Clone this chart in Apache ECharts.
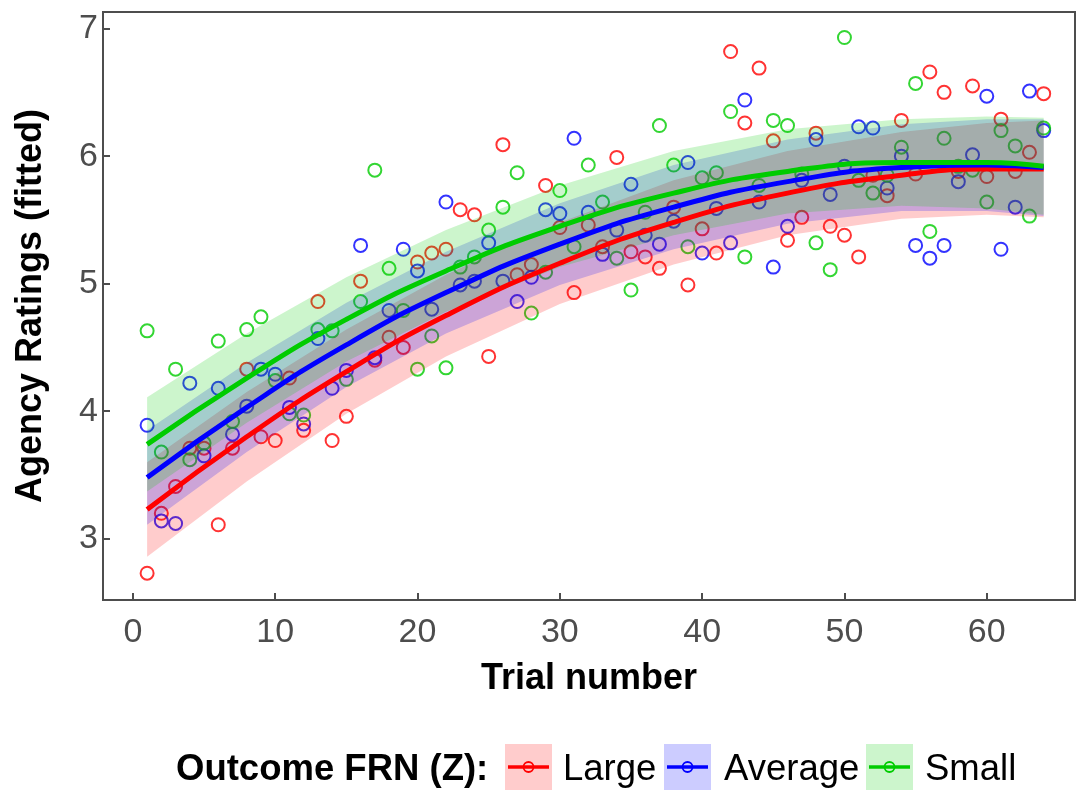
<!DOCTYPE html>
<html>
<head>
<meta charset="utf-8">
<script src="https://cdn.jsdelivr.net/npm/echarts@6/dist/echarts.min.js"></script>
<style>
  html, body { margin: 0; padding: 0; background: #fff; }
  #chart { width: 1077px; height: 790px; }
</style>
</head>
<body>
<div id="chart"></div>
<script>
var trials = [1, 2, 3, 4, 5, 6, 7, 8, 9, 10, 11, 12, 13, 14, 15, 16,
  17, 18, 19, 20, 21, 22, 23, 24, 25, 26, 27, 28, 29, 30, 31, 32,
  33, 34, 35, 36, 37, 38, 39, 40, 41, 42, 43, 44, 45, 46, 47, 48,
  49, 50, 51, 52, 53, 54, 55, 56, 57, 58, 59, 60, 61, 62, 63, 64];

var largeRatings = [2.73, 3.20, 3.41, 3.71, 3.71, 3.11, 3.71, 4.33, 3.80, 3.77, 4.26, 3.85, 4.86, 3.77, 3.96, 5.02,
  4.40, 4.58, 4.50, 5.17, 5.24, 5.27, 5.58, 5.54, 4.43, 6.09, 5.07, 5.15, 5.77, 5.44, 4.93, 5.46,
  5.29, 5.99, 5.25, 5.21, 5.12, 5.60, 4.99, 5.43, 5.24, 6.82, 6.26, 6.69, 6.12, 5.34, 5.52, 6.18,
  5.45, 5.38, 5.21, 5.85, 5.69, 6.28, 5.86, 6.66, 6.50, 5.88, 6.55, 5.84, 6.29, 5.88, 6.03, 6.49];

var averageRatings = [3.89, 3.14, 3.12, 4.22, 3.65, 4.18, 3.82, 4.04, 4.33, 4.29, 4.03, 3.90, 4.57, 4.18, 4.32, 5.30,
  4.42, 4.79, 5.27, 5.10, 4.80, 5.64, 4.99, 5.02, 5.32, 5.02, 4.86, 5.05, 5.58, 5.55, 6.14, 5.56,
  5.23, 5.42, 5.78, 5.38, 5.31, 5.49, 5.95, 5.24, 5.59, 5.32, 6.44, 5.64, 5.13, 5.45, 5.81, 6.13,
  5.70, 5.92, 6.23, 6.22, 5.75, 6.00, 5.30, 5.20, 5.30, 5.80, 6.01, 6.47, 5.27, 5.60, 6.51, 6.20];

var smallRatings = [4.63, 3.68, 4.33, 3.62, 3.75, 4.55, 3.92, 4.64, 4.74, 4.24, 3.98, 3.97, 4.64, 4.63, 4.25, 4.86,
  5.89, 5.12, 4.79, 4.33, 4.59, 4.34, 5.13, 5.21, 5.42, 5.60, 5.87, 4.77, 5.09, 5.73, 5.29, 5.93,
  5.64, 5.20, 4.95, 5.56, 6.24, 5.93, 5.29, 5.83, 5.87, 6.35, 5.21, 5.77, 6.28, 6.24, 5.86, 5.32,
  5.11, 6.93, 5.81, 5.71, 5.85, 6.07, 6.57, 5.41, 6.14, 5.92, 5.89, 5.64, 6.20, 6.08, 5.53, 6.22];

// fitted curves and ribbon half-widths, read at a few trials
var fitTrials = [1, 8, 15, 22, 30, 38, 46, 54, 60, 64];
var largeFit = [3.23, 3.80, 4.31, 4.75, 5.16, 5.48, 5.71, 5.85, 5.90, 5.90];
var averageFit = [3.48, 4.03, 4.52, 4.93, 5.31, 5.60, 5.80, 5.91, 5.93, 5.91];
var smallFit = [3.74, 4.26, 4.72, 5.10, 5.45, 5.71, 5.88, 5.95, 5.95, 5.92];
var bandHalfWidth = [0.37, 0.35, 0.33, 0.32, 0.32, 0.33, 0.33, 0.34, 0.36, 0.38];

var xTicks = [0, 10, 20, 30, 40, 50, 60];
var yTicks = [3, 4, 5, 6, 7];

var groups = ['Large', 'Average', 'Small'];
var colors = ['#FF0000', '#0000FF', '#00CC00'];
var fills = ['rgba(255,0,0,0.2)', 'rgba(0,0,255,0.2)', 'rgba(0,204,0,0.2)'];

var fontFamily = '"Liberation Sans", Arial, sans-serif';

function pairs(xs, ys) {
  return xs.map(function (x, i) { return [x, ys[i]]; });
}

function pointSeries(values, color) {
  return {
    type: 'scatter',
    z: 1,
    data: pairs(trials, values),
    symbol: 'circle',
    symbolSize: 13,
    itemStyle: { color: 'rgba(0,0,0,0)', borderColor: color, borderWidth: 2 },
    silent: true
  };
}

// confidence ribbon: one polygon, upper edge left to right then lower edge back
function bandSeries(fit, fill) {
  return {
    type: 'custom',
    z: 2,
    silent: true,
    clip: true,
    data: [[fitTrials[0], fit[0]]],
    renderItem: function (params, api) {
      var upper = [];
      var lower = [];
      fitTrials.forEach(function (t, i) {
        upper.push(api.coord([t, fit[i] + bandHalfWidth[i]]));
        lower.unshift(api.coord([t, fit[i] - bandHalfWidth[i]]));
      });
      return {
        type: 'polygon',
        shape: { points: upper.concat(lower) },
        style: { fill: fill }
      };
    }
  };
}

function fitSeries(fit, color) {
  return {
    type: 'line',
    z: 3,
    data: pairs(fitTrials, fit),
    smooth: true,
    symbol: 'none',
    lineStyle: { color: color, width: 5 },
    silent: true
  };
}

var allRatings = [largeRatings, averageRatings, smallRatings];
var allFits = [largeFit, averageFit, smallFit];

var series = [];
allRatings.forEach(function (v, i) { series.push(pointSeries(v, colors[i])); });
allFits.forEach(function (f, i) { series.push(bandSeries(f, fills[i])); });
allFits.forEach(function (f, i) { series.push(fitSeries(f, colors[i])); });

// legend drawn by hand: ggplot style keys with a tinted box
var legendFont = '36.5px ' + fontFamily;
var keyX = [505, 664, 866];
var labelX = [563, 724, 925];
var graphic = [{
  type: 'text', x: 176, y: 770,
  style: { text: 'Outcome FRN (Z):', font: 'bold ' + legendFont, fill: '#000', verticalAlign: 'middle' }
}];
groups.forEach(function (g, i) {
  graphic.push({ type: 'rect', shape: { x: keyX[i], y: 744, width: 47, height: 46 }, style: { fill: fills[i] } });
  graphic.push({ type: 'line', shape: { x1: keyX[i] + 3, y1: 767, x2: keyX[i] + 44, y2: 767 }, style: { stroke: colors[i], lineWidth: 3.5 } });
  graphic.push({ type: 'circle', shape: { cx: keyX[i] + 23.5, cy: 767, r: 5 }, style: { fill: 'none', stroke: colors[i], lineWidth: 1.8 } });
  graphic.push({ type: 'text', x: labelX[i], y: 770, style: { text: g, font: legendFont, fill: '#000', verticalAlign: 'middle' } });
});

var chart = echarts.init(document.getElementById('chart'));
chart.setOption({
  animation: false,
  textStyle: { fontFamily: fontFamily },
  grid: {
    left: 103, right: 2, top: 12, bottom: 190,
    show: true, borderColor: '#4d4d4d', borderWidth: 2
  },
  xAxis: {
    type: 'value',
    min: -2.1, max: 66.2,
    name: 'Trial number',
    nameLocation: 'middle',
    nameGap: 61,
    nameTextStyle: { fontSize: 36, fontWeight: 'bold', color: '#000' },
    axisLine: { show: true, onZero: false, lineStyle: { color: '#4d4d4d', width: 2 } },
    axisTick: { show: true, inside: true, length: 7, customValues: xTicks, lineStyle: { color: '#4d4d4d', width: 2 } },
    axisLabel: { customValues: xTicks, fontSize: 34, color: '#4d4d4d', margin: 16 },
    splitLine: { show: false }
  },
  yAxis: {
    type: 'value',
    min: 2.52, max: 7.13,
    name: 'Agency Ratings (fitted)',
    nameLocation: 'middle',
    nameGap: 54,
    nameTextStyle: { fontSize: 36, fontWeight: 'bold', color: '#000' },
    axisLine: { show: true, onZero: false, lineStyle: { color: '#4d4d4d', width: 2 } },
    axisTick: { show: true, inside: true, length: 7, customValues: yTicks, lineStyle: { color: '#4d4d4d', width: 2 } },
    axisLabel: { customValues: yTicks, fontSize: 34, color: '#4d4d4d', margin: 5 },
    splitLine: { show: false }
  },
  graphic: graphic,
  series: series
});
</script>
</body>
</html>
